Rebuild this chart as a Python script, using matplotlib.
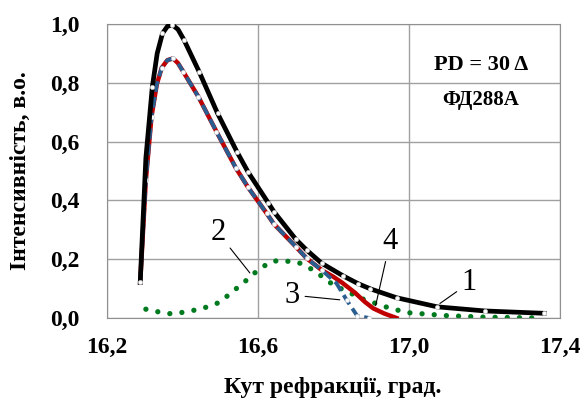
import matplotlib
matplotlib.use("Agg")
import matplotlib.pyplot as plt

# крива 1 - чорна
x1 = [16.288, 16.303, 16.32, 16.333, 16.347, 16.36, 16.373, 16.388, 16.404, 16.444,
      16.493, 16.544, 16.574, 16.627, 16.642, 16.70, 16.729, 16.769, 16.826, 16.865,
      16.898, 16.967, 17.075, 17.201, 17.358]
y1 = [0.121, 0.544, 0.785, 0.9, 0.968, 0.992, 0.997, 0.982, 0.946, 0.838,
      0.696, 0.566, 0.496, 0.392, 0.362, 0.268, 0.231, 0.186, 0.143, 0.117,
      0.099, 0.069, 0.038, 0.024, 0.016]

# крива 2 - зелена (точки)
x2 = [16.303, 16.354, 16.378, 16.45, 16.498, 16.57, 16.592, 16.632, 16.658, 16.707,
      16.747, 16.80, 16.879, 16.95, 16.998, 17.1, 17.2, 17.347]
y2 = [0.03, 0.016, 0.014, 0.031, 0.053, 0.129, 0.154, 0.191, 0.196, 0.189,
      0.163, 0.112, 0.064, 0.033, 0.018, 0.008, 0.003, 0.0]

# крива 3 - синя штрихова
x3 = [16.288, 16.303, 16.318, 16.332, 16.345, 16.36, 16.375, 16.388, 16.402, 16.442,
      16.49, 16.542, 16.574, 16.623, 16.642, 16.70, 16.729, 16.769, 16.808, 16.835,
      16.863, 16.895]
y3 = [0.121, 0.469, 0.685, 0.795, 0.851, 0.877, 0.883, 0.867, 0.838, 0.753,
      0.634, 0.509, 0.444, 0.356, 0.32, 0.243, 0.203, 0.163, 0.118, 0.061,
      0.007, 0.0]

# крива 4 - червона
x4 = [16.288, 16.303, 16.318, 16.332, 16.345, 16.36, 16.375, 16.388, 16.402, 16.442,
      16.49, 16.542, 16.574, 16.623, 16.642, 16.70, 16.729, 16.769, 16.80, 16.823,
      16.857, 16.883, 16.905, 16.935, 16.967]
y4 = [0.121, 0.469, 0.685, 0.795, 0.851, 0.877, 0.883, 0.867, 0.838, 0.753,
      0.634, 0.509, 0.444, 0.356, 0.32, 0.243, 0.203, 0.163, 0.14, 0.12,
      0.086, 0.055, 0.033, 0.015, 0.0]

xticks = [16.2, 16.6, 17.0, 17.4]
yticks = [0.0, 0.2, 0.4, 0.6, 0.8, 1.0]

plt.rcParams['font.family'] = ['Liberation Serif', 'DejaVu Serif']

fig = plt.figure(figsize=(5.83, 4.03), dpi=100)
ax = fig.add_axes([0.1835, 0.2109, 0.777, 0.7295])

ax.plot(x2, y2, color='#007a1e', lw=3.8, linestyle=(0, (0.01, 2.3)),
        dash_capstyle='round', zorder=2)
ax.plot(x4, y4, color='#c00000', lw=3.2, zorder=3)
ax.plot(x3, y3, color='#2a5e91', lw=2.8, linestyle=(0, (2.8, 1.3)), zorder=4,
        marker='o', ms=3.0, mfc='white', mec='#c8d0d8', mew=0.5,
        markevery=[0, 1, 2, 4, 6, 8, 9, 10, 11, 12, 13, 14, 15, 16, 17, 19, 20, 21])
ax.plot(x1, y1, color='black', lw=3.4, zorder=5,
        marker='o', ms=3.0, mfc='white', mec='#c0c0c0', mew=0.5,
        markevery=[0, 2, 4, 6, 8, 9, 10, 11, 12, 13, 14, 15, 16, 17, 18, 19, 20, 21, 22, 23, 24])

ax.set_xlim(16.2, 17.4)
ax.set_ylim(0, 1.0)
ax.set_xticks(xticks)
ax.set_yticks(yticks)
ax.set_xticklabels([f'{v:.1f}'.replace('.', ',') for v in xticks])
ax.set_yticklabels([f'{v:.1f}'.replace('.', ',') for v in yticks])
ax.tick_params(length=0, labelsize=17)
for lab in ax.get_xticklabels() + ax.get_yticklabels():
    lab.set_fontweight('bold')
ax.tick_params(axis='x', pad=14)
ax.tick_params(axis='y', pad=20)
ax.grid(True, color='#a0a0a0', lw=1)
for s in ax.spines.values():
    s.set_color('#909090')

ax.set_xlabel('Кут рефракції, град.', fontsize=17, fontweight='bold', va='center')
ax.set_ylabel('Інтенсивність, в.о.', fontsize=17, fontweight='bold', va='center')
ax.xaxis.set_label_coords(0.498, -0.238)
ax.yaxis.set_label_coords(-0.19, 0.5)

# підписи кривих
ann = dict(arrowprops=dict(arrowstyle='-', color='black', lw=0.8), fontsize=22,
           ha='center', va='center')
ax.annotate('1', xy=(17.076, 0.044), xytext=(17.16, 0.12), **ann)
ax.annotate('2', xy=(16.583, 0.146), xytext=(16.494, 0.29), **ann)
ax.annotate('3', xy=(16.824, 0.061), xytext=(16.69, 0.078), **ann)
ax.annotate('4', xy=(16.91, 0.033), xytext=(16.95, 0.26), **ann)

ax.text(17.19, 0.86, 'PD = 30 Δ', fontsize=16, fontweight='bold', ha='center', va='center')
ax.text(17.19, 0.74, 'ФД288А', fontsize=15, fontweight='bold', ha='center', va='center')

fig.savefig('out.png', dpi=100)
